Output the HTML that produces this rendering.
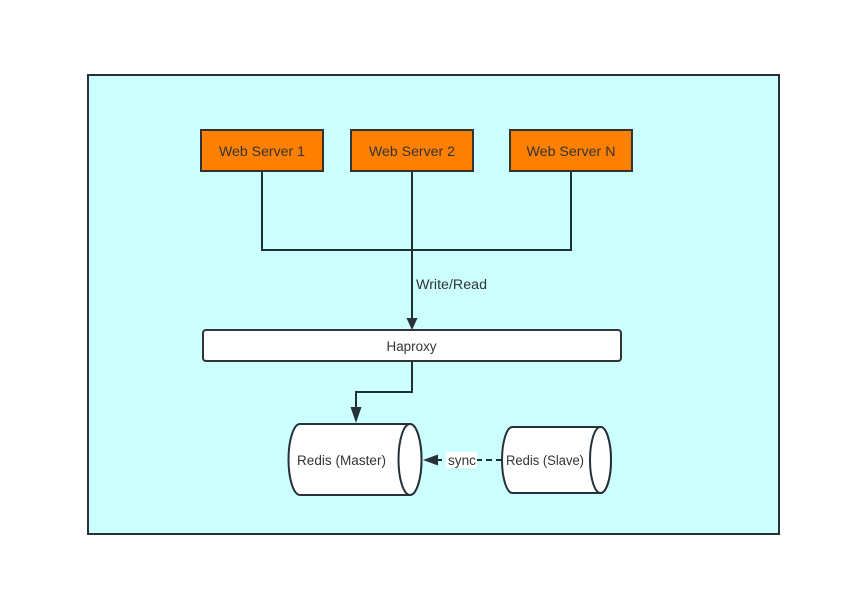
<!DOCTYPE html>
<html>
<head>
<meta charset="utf-8">
<style>
  html,body{margin:0;padding:0;background:#fff;}
  svg{display:block;}
  text{font-family:"Liberation Sans","Noto Sans CJK SC",sans-serif;font-size:13.5px;fill:#333;}
</style>
</head>
<body>
<svg width="842" height="597" viewBox="0 0 842 597" xmlns="http://www.w3.org/2000/svg">
  <rect x="0" y="0" width="842" height="597" fill="#ffffff"/>
  <!-- outer frame -->
  <rect x="88" y="75" width="691" height="459" fill="#ccffff" stroke="#263238" stroke-width="2"/>

  <!-- connectors from web servers -->
  <g fill="none" stroke="#1e3030" stroke-width="2">
    <path d="M262 171 V250 H571 V171"/>
    <path d="M412 171 V322"/>
    <path d="M412 361 V392 H356 V414"/>
  </g>
  <!-- arrowheads -->
  <polygon points="406.5,318 417.5,318 412,330" fill="#263238"/>
  <polygon points="350.5,407 361.5,407 356,423" fill="#263238"/>

  <!-- Web servers -->
  <g stroke="#333" stroke-width="2" fill="#ff8000">
    <rect x="201" y="130" width="122" height="41"/>
    <rect x="351" y="130" width="122" height="41"/>
    <rect x="510" y="130" width="122" height="41"/>
  </g>
  <text x="262" y="156" text-anchor="middle" textLength="86" lengthAdjust="spacingAndGlyphs">Web Server 1</text>
  <text x="412" y="156" text-anchor="middle" textLength="86" lengthAdjust="spacingAndGlyphs">Web Server 2</text>
  <text x="571" y="156" text-anchor="middle" textLength="89" lengthAdjust="spacingAndGlyphs">Web Server N</text>

  <text x="416" y="289" textLength="71" lengthAdjust="spacingAndGlyphs">Write/Read</text>

  <!-- Haproxy -->
  <rect x="203" y="330" width="418" height="31" rx="3" ry="3" fill="#ffffff" stroke="#333" stroke-width="2"/>
  <text x="411.5" y="351" text-anchor="middle" textLength="50" lengthAdjust="spacingAndGlyphs">Haproxy</text>

  <!-- Redis Master cylinder (horizontal) -->
  <path d="M300 424 H410 A11.5 35.5 0 0 1 410 495 H300 A11.5 35.5 0 0 1 300 424 Z" fill="#ffffff" stroke="#263238" stroke-width="2"/>
  <ellipse cx="410" cy="459.5" rx="11.5" ry="35.5" fill="#ffffff" stroke="#263238" stroke-width="2"/>
  <text x="297" y="465" textLength="89" lengthAdjust="spacingAndGlyphs">Redis (Master)</text>

  <!-- Redis Slave cylinder -->
  <path d="M512.5 427 H600.5 A10.5 33 0 0 1 600.5 493 H512.5 A10.5 33 0 0 1 512.5 427 Z" fill="#ffffff" stroke="#263238" stroke-width="2"/>
  <ellipse cx="600.5" cy="460" rx="10.5" ry="33" fill="#ffffff" stroke="#263238" stroke-width="2"/>
  <text x="506" y="465" textLength="78" lengthAdjust="spacingAndGlyphs">Redis (Slave)</text>

  <!-- sync dashed connector -->
  <path d="M502 460 H432" fill="none" stroke="#1e3030" stroke-width="2" stroke-dasharray="6,4"/>
  <polygon points="423,460 438,454.5 438,465.5" fill="#263238"/>
  <rect x="446" y="452" width="31" height="16" fill="#ffffff"/>
  <text x="448" y="465" textLength="28" lengthAdjust="spacingAndGlyphs">sync</text>
</svg>
</body>
</html>
